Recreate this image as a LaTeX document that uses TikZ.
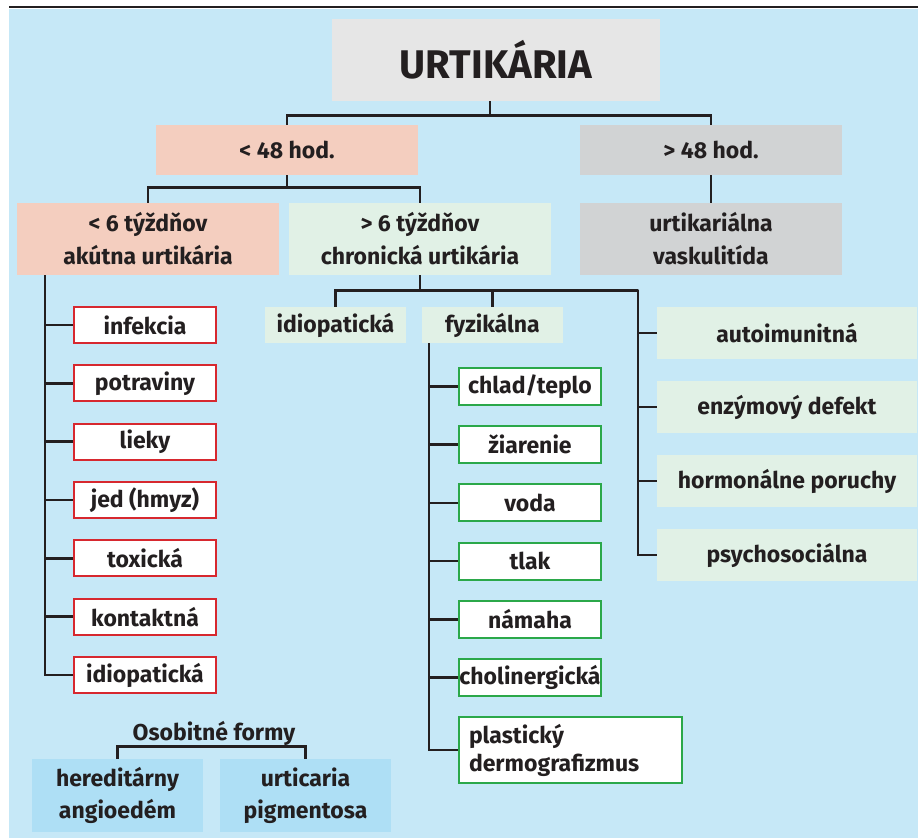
\documentclass[tikz,border=0pt]{standalone}
\usepackage{fontspec}
\setmainfont{Fira Sans}
\usepackage{xcolor}
\usepackage{tikz}
\definecolor{sky}{HTML}{C6E8F7}
\definecolor{ink}{HTML}{231F20}
\definecolor{pale grey}{HTML}{E6E6E6}
\definecolor{mid grey}{HTML}{D1D3D4}
\definecolor{salmon}{HTML}{F4CEBF}
\definecolor{mint}{HTML}{E1F1E6}
\definecolor{deep sky}{HTML}{AEDFF5}
\definecolor{acute red}{HTML}{D7282F}
\definecolor{phys green}{HTML}{2BA84A}
\tikzset{box/.style={inner sep=0pt, align=center, text=ink,
        font=\bfseries\fontsize{11.5}{16.5}\selectfont},
    urtbox/.style={box, fill=pale grey, minimum width=164pt, minimum height=41pt,
        font=\bfseries\fontsize{20}{22}\selectfont},
    hodbox/.style={box, minimum width=131pt, minimum height=25pt},
    typbox/.style={box, minimum width=131pt, minimum height=36pt},
    subbox/.style={box, fill=mint, minimum width=70.5pt, minimum height=18pt},
    rightbox/.style={box, fill=mint, minimum width=130pt, minimum height=26pt},
    redbox/.style={box, fill=white, draw=acute red, line width=1pt,
        minimum width=71pt, minimum height=18pt},
    greenbox/.style={box, fill=white, draw=phys green, line width=1pt,
        minimum width=71pt, minimum height=18.5pt},
    formbox/.style={box, fill=deep sky, minimum width=85.5pt, minimum height=36.5pt,
        font=\bfseries\fontsize{11.5}{16}\selectfont},
    conn/.style={draw=ink, line width=1.25pt}}

\begin{document}
\begin{tikzpicture}[x=0.5pt,y=-0.5pt]
    \useasboundingbox (0,0) rectangle (918,838);
    \fill[sky] (9,9.5) rectangle (918,838);
    \draw[ink, line width=1.4pt] (9,7) -- (918,7);

    \node[urtbox] (urt) at (496,60) {URTIKÁRIA};
    \node[hodbox, fill=salmon] (lt48) at (287,150) {< 48 hod.};
    \node[hodbox, fill=mid grey] (gt48) at (711,150) {> 48 hod.};
    \node[typbox, fill=salmon] (acute) at (148,239) {< 6 týždňov\\akútna urtikária};
    \node[typbox, fill=mint] (chronic) at (420,239) {> 6 týždňov\\chronická urtikária};
    \node[typbox, fill=mid grey] (vask) at (711,239) {urtikariálna\\vaskulitída};
    \node[subbox] (idioC) at (335.5,325) {idiopatická};
    \node[subbox] (fyz) at (492.5,325) {fyzikálna};

    \coordinate (urtStem) at (490,0);
    \draw[conn] (urt.south -| urtStem) -- ++(0,14) -| (lt48.north);
    \draw[conn] (urt.south -| urtStem) -- ++(0,14) -| (gt48.north);
    \draw[conn] (lt48.south) -- ++(0,12) -| (acute.north);
    \draw[conn] (lt48.south) -- ++(0,12) -| (chronic.north);
    \draw[conn] (gt48.south) -- (vask.north);
    \draw[conn] (chronic.south) -- ++(0,15) -| (idioC.north);
    \draw[conn] (chronic.south) -- ++(0,15) -| (fyz.north);

    \coordinate (riT) at (638,290);
    \coordinate (akT) at (45,0);
    \coordinate (fzT) at (429,0);

    \foreach \t [count=\i from 0] in {autoimunitná, enzýmový defekt,
            hormonálne poruchy, psychosociálna} {
        \node[rightbox] (ri\i) at (787,333+74*\i) {\t};
        \draw[conn] (chronic.south) -- ++(0,15) -| (riT) |- (ri\i.west);
    }
    \foreach \t [count=\i from 0] in {infekcia, potraviny, lieky, jed (hmyz),
            toxická, kontaktná, idiopatická} {
        \node[redbox] (ak\i) at (145,325+58.33*\i) {\t};
        \draw[conn] (acute.south -| akT) |- (ak\i.west);
    }
    \foreach \t [count=\i from 0] in {chlad/teplo, žiarenie, voda, tlak,
            námaha, cholinergická} {
        \node[greenbox] (fz\i) at (530,386.5+58.2*\i) {\t};
        \draw[conn] (fyz.south -| fzT) |- (fz\i.west);
    }
    \node[greenbox, align=left, text width=101.5pt, inner xsep=5pt,
        minimum height=33pt, font=\bfseries\fontsize{11.5}{14}\selectfont]
        (fz6) at (570.5,750) {plastický\\dermografizmus};
    \draw[conn] (fyz.south -| fzT) |- (fz6.west);

    \node[box] (osob) at (214,733) {Osobitné formy};
    \node[formbox] (hered) at (117.5,795.5) {hereditárny\\angioedém};
    \node[formbox] (pigm) at (305.5,795.5) {urticaria\\pigmentosa};
    \draw[conn] (hered.north) -- ++(0,-12) -| (pigm.north);
\end{tikzpicture}
\end{document}
